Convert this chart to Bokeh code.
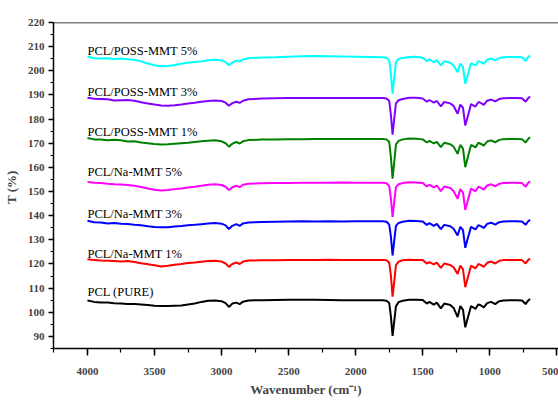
from bokeh.plotting import figure
from bokeh.models import Range1d, SingleIntervalTicker, ColumnDataSource, Span
from bokeh.core.properties import value
from bokeh.embed import file_html
from bokeh.resources import INLINE

wavenumber = [4000, 3950, 3900, 3850, 3800, 3750, 3700, 3650, 3600, 3550, 3500, 3450, 3400, 3350,
              3300, 3250, 3200, 3150, 3100, 3050, 3000, 2970, 2945, 2920, 2890, 2865, 2840, 2800,
              2700, 2600, 2500, 2400, 2300, 2200, 2100, 2000, 1900, 1800, 1770, 1750, 1738, 1725,
              1712, 1700, 1680, 1650, 1600, 1550, 1500, 1470, 1450, 1418, 1395, 1365, 1340, 1295,
              1270, 1240, 1220, 1200, 1183, 1165, 1140, 1107, 1085, 1065, 1045, 1020, 990, 960,
              930, 900, 850, 800, 760, 733, 715, 700]

pcl_pure = [104.9, 104.3, 104.0, 104.0, 103.7, 103.6, 103.4, 103.4, 103.2, 103.0, 102.7, 102.6, 102.6, 102.7,
            102.8, 103.2, 103.6, 104.3, 104.8, 104.9, 104.6, 103.8, 102.2, 103.6, 104.0, 103.4, 104.4, 104.9,
            105.0, 105.1, 105.2, 105.2, 105.2, 105.1, 105.0, 105.0, 105.0, 105.0, 104.8, 103.8, 98.5, 90.2,
            96.5, 102.5, 104.2, 104.8, 105.2, 105.2, 105.1, 103.6, 104.3, 103.2, 104.0, 101.6, 103.6, 103.0,
            101.8, 98.0, 102.6, 101.0, 93.8, 97.5, 102.6, 101.4, 103.3, 102.8, 102.0, 103.8, 104.3, 103.4,
            104.6, 104.9, 105.0, 105.0, 104.9, 103.4, 104.8, 105.5]

na_mmt_1 = [122.0, 121.6, 121.4, 121.3, 121.2, 121.0, 121.2, 120.8, 120.3, 119.9, 119.5, 119.0, 119.3, 119.7,
            120.0, 120.4, 120.6, 120.9, 121.2, 121.3, 121.0, 120.2, 118.8, 120.0, 120.6, 120.0, 121.0, 121.4,
            121.5, 121.5, 121.6, 121.6, 121.7, 121.8, 121.6, 121.7, 121.7, 121.7, 121.5, 120.5, 115.5, 106.5,
            113.0, 119.5, 121.0, 121.5, 121.8, 121.7, 121.6, 120.2, 120.8, 119.8, 120.6, 118.4, 120.2, 119.6,
            118.6, 115.9, 119.3, 117.8, 110.4, 114.2, 119.3, 118.2, 120.0, 119.5, 118.8, 120.5, 121.0, 120.2,
            121.3, 121.6, 121.7, 121.7, 121.6, 120.2, 121.6, 122.3]

na_mmt_3 = [137.9, 137.3, 137.2, 136.8, 137.0, 136.7, 136.6, 136.2, 136.0, 135.6, 135.3, 135.2, 135.2, 135.5,
            135.7, 136.0, 136.2, 136.5, 136.8, 137.0, 136.7, 136.0, 134.5, 135.8, 136.5, 135.8, 136.8, 137.2,
            137.4, 137.5, 137.6, 137.7, 137.6, 137.7, 137.6, 137.7, 137.7, 137.7, 137.5, 136.3, 131.5, 123.5,
            130.0, 135.8, 137.0, 137.5, 137.9, 137.8, 137.6, 136.2, 136.9, 135.8, 136.6, 134.4, 136.2, 135.6,
            134.6, 131.8, 135.4, 134.0, 126.7, 130.5, 135.4, 134.3, 136.1, 135.6, 134.9, 136.6, 137.1, 136.3,
            137.3, 137.6, 137.7, 137.7, 137.6, 136.2, 137.6, 138.3]

na_mmt_5 = [154.0, 153.6, 153.5, 153.2, 153.0, 152.9, 152.7, 152.4, 151.9, 151.3, 150.7, 150.4, 150.6, 151.0,
            151.3, 151.7, 152.0, 152.4, 152.8, 153.0, 152.7, 152.0, 150.6, 151.8, 152.4, 151.8, 152.8, 153.2,
            153.4, 153.5, 153.5, 153.6, 153.6, 153.6, 153.7, 153.6, 153.6, 153.6, 153.4, 152.3, 147.4, 139.4,
            146.0, 151.8, 153.0, 153.5, 153.8, 153.7, 153.5, 152.1, 152.8, 151.7, 152.5, 150.2, 152.1, 151.5,
            150.1, 147.0, 151.0, 149.6, 142.4, 146.2, 151.2, 150.1, 152.0, 151.5, 150.8, 152.5, 153.0, 152.2,
            153.2, 153.5, 153.6, 153.6, 153.5, 152.0, 153.5, 154.3]

poss_mmt_1 = [172.2, 171.6, 171.5, 171.2, 171.4, 171.2, 170.7, 170.8, 170.3, 170.0, 169.7, 169.5, 169.6, 169.8,
              170.0, 170.2, 170.5, 170.8, 171.0, 171.2, 170.8, 170.0, 168.6, 169.8, 170.5, 169.9, 170.8, 171.3,
              171.5, 171.6, 171.7, 171.7, 171.8, 171.8, 171.8, 171.8, 171.8, 171.8, 171.6, 170.5, 164.5, 155.3,
              162.5, 169.5, 171.0, 171.6, 172.0, 171.9, 171.6, 170.3, 171.0, 169.9, 170.6, 168.4, 170.2, 169.6,
              168.6, 165.6, 169.3, 167.8, 160.1, 164.0, 169.3, 168.3, 170.2, 169.7, 169.0, 170.7, 171.2, 170.4,
              171.4, 171.7, 171.8, 171.8, 171.7, 170.3, 171.7, 172.5]

poss_mmt_3 = [188.8, 188.4, 188.3, 188.2, 187.7, 187.8, 187.9, 187.6, 187.0, 186.5, 186.0, 185.6, 185.5, 185.7,
              186.0, 186.5, 186.8, 187.2, 187.5, 187.7, 187.5, 186.8, 185.5, 186.6, 187.2, 186.7, 187.6, 188.2,
              188.5, 188.6, 188.7, 188.7, 188.7, 188.7, 188.7, 188.7, 188.7, 188.7, 188.5, 187.5, 182.0, 173.6,
              180.5, 186.5, 187.8, 188.3, 188.8, 188.8, 188.5, 187.2, 187.9, 186.8, 187.5, 185.3, 187.1, 186.5,
              185.4, 182.2, 186.0, 184.7, 177.3, 181.0, 186.2, 185.2, 187.1, 186.6, 185.9, 187.6, 188.1, 187.3,
              188.3, 188.6, 188.7, 188.7, 188.6, 187.2, 188.6, 189.3]

poss_mmt_5 = [205.9, 205.2, 205.1, 205.2, 204.9, 205.1, 204.8, 204.6, 203.9, 203.0, 202.3, 201.9, 202.0, 202.4,
              202.9, 203.3, 203.6, 203.9, 204.4, 204.6, 204.3, 203.6, 202.3, 203.4, 204.2, 203.8, 204.7, 205.2,
              205.5, 205.6, 205.8, 206.0, 206.1, 206.0, 205.9, 205.8, 205.7, 205.6, 205.4, 204.3, 198.8, 190.5,
              197.5, 203.6, 204.9, 205.3, 205.7, 205.8, 205.4, 204.0, 204.8, 203.6, 204.4, 202.2, 204.0, 203.3,
              202.2, 199.4, 203.0, 201.6, 194.6, 198.2, 203.2, 202.2, 204.0, 203.6, 202.9, 204.6, 205.1, 204.3,
              205.3, 205.6, 205.7, 205.7, 205.6, 204.1, 205.6, 206.3]

series_names = ["PCL (PURE)", "PCL/Na-MMT 1%", "PCL/Na-MMT 3%", "PCL/Na-MMT 5%",
                "PCL/POSS-MMT 1%", "PCL/POSS-MMT 3%", "PCL/POSS-MMT 5%"]
series_values = [pcl_pure, na_mmt_1, na_mmt_3, na_mmt_5, poss_mmt_1, poss_mmt_3, poss_mmt_5]
series_colors = ["#000000", "#FF0000", "#0000FF", "#FF00FF", "#008000", "#8000FF", "#00FFFF"]
label_x = [4000, 4000, 4000, 4000, 4000, 4000, 4000]
label_y = [108.2, 124.2, 140.8, 158.0, 174.6, 191.1, 208.4]

p = figure(width=558, height=413, output_backend="svg", toolbar_location=None,
           x_range=Range1d(4253, 488), y_range=Range1d(85, 220),
           min_border_left=52, min_border_right=0, min_border_top=22, min_border_bottom=65)
p.background_fill_color = "white"
p.border_fill_color = "white"
p.grid.visible = False
p.outline_line_color = None
p.add_layout(Span(location=220, dimension="width", line_color="black", line_width=1.5))

for vals, col in zip(series_values, series_colors):
    p.line(wavenumber, vals, line_color=col, line_width=2.0)

src = ColumnDataSource(dict(x=label_x, y=label_y, t=series_names))
p.text(x="x", y="y", text="t", source=src, text_font=value("Liberation Serif"),
       text_font_size="12.5px", text_color="black", text_align="left", text_baseline="alphabetic")

p.xaxis[0].ticker = SingleIntervalTicker(interval=500, num_minor_ticks=2)
p.yaxis[0].ticker = SingleIntervalTicker(interval=10, num_minor_ticks=2)

for ax in (p.xaxis[0], p.yaxis[0]):
    ax.axis_line_width = 1.5
    ax.major_tick_line_width = 1.5
    ax.minor_tick_line_width = 1.2
    ax.major_tick_in = 0
    ax.minor_tick_in = 0
    ax.major_label_text_font = "Liberation Serif"
    ax.major_label_text_font_style = "bold"
    ax.major_label_text_font_size = "11px"
    ax.axis_label_text_font = "Liberation Serif"
    ax.axis_label_text_font_style = "bold"
    ax.axis_label_text_font_size = "13px"

p.xaxis[0].major_tick_out = 7
p.xaxis[0].minor_tick_out = 4
p.xaxis[0].major_label_standoff = 12
p.xaxis[0].axis_label = "Wavenumber (cm\u207b\u00b9)"
p.xaxis[0].axis_label_standoff = 4

p.yaxis[0].major_tick_out = 5
p.yaxis[0].minor_tick_out = 3
p.yaxis[0].major_label_standoff = 4
p.yaxis[0].axis_label = "T  (%)"
p.yaxis[0].axis_label_standoff = 6

open("out.html", "w").write(file_html(p, INLINE))
